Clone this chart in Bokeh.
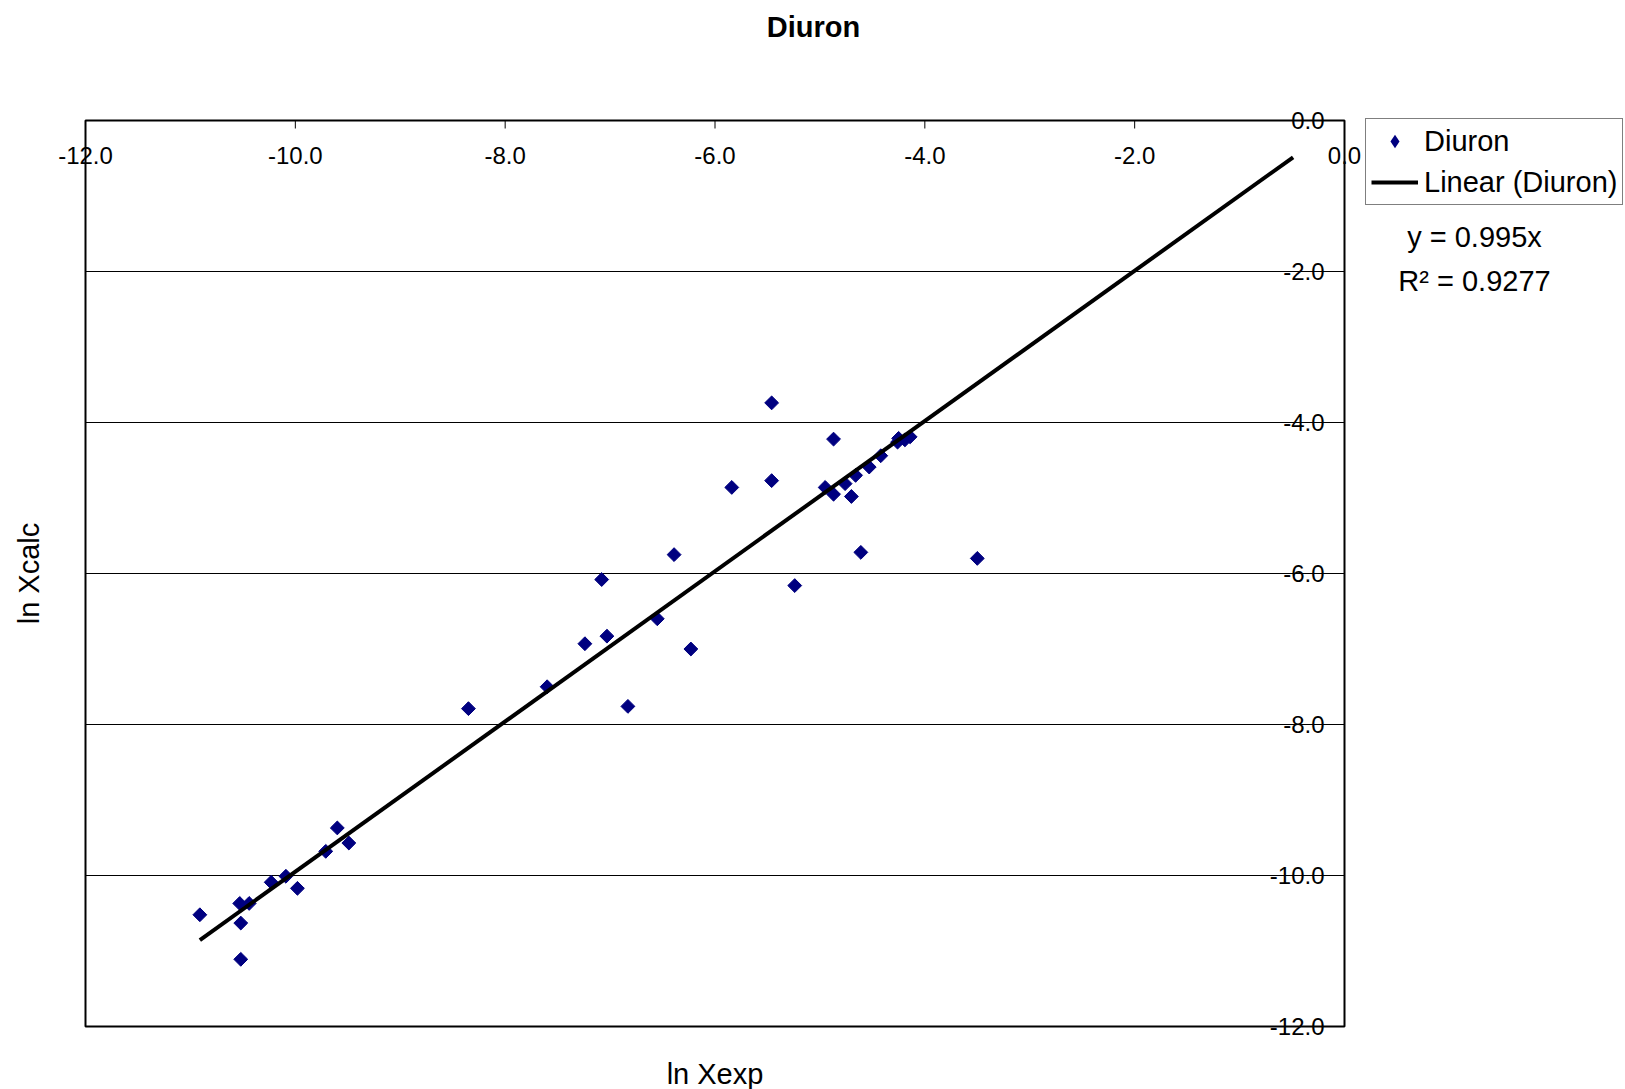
import numpy as np
from bokeh.plotting import figure
from bokeh.models import (ColumnDataSource, LabelSet, Label, Legend, LegendItem, Range1d)
from bokeh.core.properties import value
from bokeh.embed import file_html
from bokeh.resources import INLINE

# ---- data ----
ln_xexp = [-10.91, -10.53, -10.44, -10.52, -10.52, -10.23, -10.09, -9.98, -9.71, -9.60, -9.49,
           -8.35, -7.60, -6.83, -7.24, -7.08, -7.03, -6.55, -6.39, -6.23, -5.84, -5.46, -5.46,
           -5.24, -4.95, -4.87, -4.87, -4.76, -4.70, -4.66, -4.61, -4.53, -4.42,
           -4.26, -4.25, -4.19, -4.14, -3.50]
ln_xcalc = [-10.52, -10.37, -10.37, -10.63, -11.11, -10.09, -10.01, -10.17, -9.68, -9.37, -9.57,
            -7.79, -7.50, -7.76, -6.93, -6.08, -6.83, -6.60, -5.75, -7.00, -4.86, -3.74, -4.77,
            -6.16, -4.86, -4.95, -4.22, -4.81, -4.98, -4.70, -5.72, -4.59, -4.44,
            -4.26, -4.21, -4.23, -4.19, -5.80]
slope = 0.995
r_squared = 0.9277
trend_x = [-10.91, -0.49]
trend_y = [slope * v for v in trend_x]

x_limits = [-12, 0]
y_limits = [-12, 0]
x_ticks = [-12, -10, -8, -6, -4, -2, 0]
x_tick_labels = ["-12.0", "-10.0", "-8.0", "-6.0", "-4.0", "-2.0", "0.0"]
y_ticks = [0, -2, -4, -6, -8, -10, -12]
y_tick_labels = ["0.0", "-2.0", "-4.0", "-6.0", "-8.0", "-10.0", "-12.0"]
grid_y = [-2, -4, -6, -8, -10]

# ---- layout (pixels) ----
W, H = 1625, 1089
PLOT_L, PLOT_R, PLOT_T, PLOT_B = 85, 1344, 120, 1026
FONT = "Liberation Sans"
NAVY = "#000080"

xppu = (PLOT_R - PLOT_L) / (x_limits[1] - x_limits[0])
yppu = (PLOT_B - PLOT_T) / (y_limits[1] - y_limits[0])
x_range = Range1d(x_limits[0] - PLOT_L / xppu, x_limits[1] + (W - PLOT_R) / xppu)
y_range = Range1d(y_limits[0] - (H - PLOT_B) / yppu, y_limits[1] + PLOT_T / yppu)

p = figure(width=W, height=H, x_range=x_range, y_range=y_range, title=None,
           x_axis_location=None, y_axis_location=None,
           toolbar_location=None, output_backend="svg",
           min_border=0, min_border_left=0, min_border_right=0,
           min_border_top=0, min_border_bottom=0)
p.background_fill_color = "white"
p.border_fill_color = "white"
p.outline_line_color = None
p.grid.visible = False

# horizontal gridlines
p.segment(x0=[x_limits[0]] * len(grid_y), x1=[x_limits[1]] * len(grid_y), y0=grid_y, y1=grid_y,
          line_color="black", line_width=1)
# plot-area border
p.quad(left=[x_limits[0]], right=[x_limits[1]], bottom=[y_limits[0]], top=[y_limits[1]],
       fill_color=None, line_color="black", line_width=2)
# tick marks: x axis crosses at y = 0 (top), y axis crosses at x = 0 (right)
p.ray(x=x_ticks, y=[0] * len(x_ticks), length=8, length_units="screen", angle=-np.pi / 2,
      line_color="black", line_width=1)
p.ray(x=[0] * len(y_ticks), y=y_ticks, length=8, length_units="screen", angle=np.pi,
      line_color="black", line_width=1)

# series: a diamond marker (used for the legend key) lying under rotated squares
sc_key = p.scatter(ln_xexp, ln_xcalc, marker="diamond", size=13, fill_color=NAVY, line_color=None)
sc = p.scatter(ln_xexp, ln_xcalc, marker="square", size=9.8, angle=np.pi / 4,
               fill_color=NAVY, line_color=NAVY)
ln = p.line(trend_x, trend_y, line_color="black", line_width=4)

# tick labels
xsrc = ColumnDataSource(dict(x=x_ticks, y=[0] * len(x_ticks), t=x_tick_labels))
p.add_layout(LabelSet(x="x", y="y", text="t", source=xsrc, y_offset=-35,
                      text_align="center", text_baseline="middle",
                      text_font=value(FONT), text_font_size=value("24px"), text_color="black"))
ysrc = ColumnDataSource(dict(x=[0] * len(y_ticks), y=y_ticks, t=y_tick_labels))
p.add_layout(LabelSet(x="x", y="y", text="t", source=ysrc, x_offset=-20,
                      text_align="right", text_baseline="middle",
                      text_font=value(FONT), text_font_size=value("24px"), text_color="black"))


def screen_label(text, cx, cy, size="29px", **kw):
    # cx, cy: canvas pixels from the top-left corner
    return Label(x=cx, y=H - cy, x_units="screen", y_units="screen", text=text,
                 text_align="center", text_baseline="middle", text_font=FONT,
                 text_font_size=size, text_color="black", **kw)


p.add_layout(screen_label("Diuron", 813, 26, text_font_style="bold"))
p.add_layout(screen_label("ln Xexp", (PLOT_L + PLOT_R) / 2, 1073))
p.add_layout(screen_label("ln Xcalc", 28, (PLOT_T + PLOT_B) / 2, angle=np.pi / 2))
p.add_layout(screen_label(f"y = {slope}x", 1474, 236))
p.add_layout(screen_label(f"R² = {r_squared}", 1474, 280))

LEG_L, LEG_B = 1365, 205
legend = Legend(items=[LegendItem(label="Diuron", renderers=[sc_key]),
                       LegendItem(label="Linear (Diuron)", renderers=[ln])],
                location=(LEG_L, H - LEG_B), margin=0, padding=5, spacing=7,
                glyph_width=47, glyph_height=34, label_height=34, label_standoff=6,
                label_text_font=FONT, label_text_font_size="29px", label_text_color="black",
                border_line_color="black", border_line_width=1,
                background_fill_color="white", background_fill_alpha=1)
p.add_layout(legend)

open("out.html", "w").write(file_html(p, INLINE))
